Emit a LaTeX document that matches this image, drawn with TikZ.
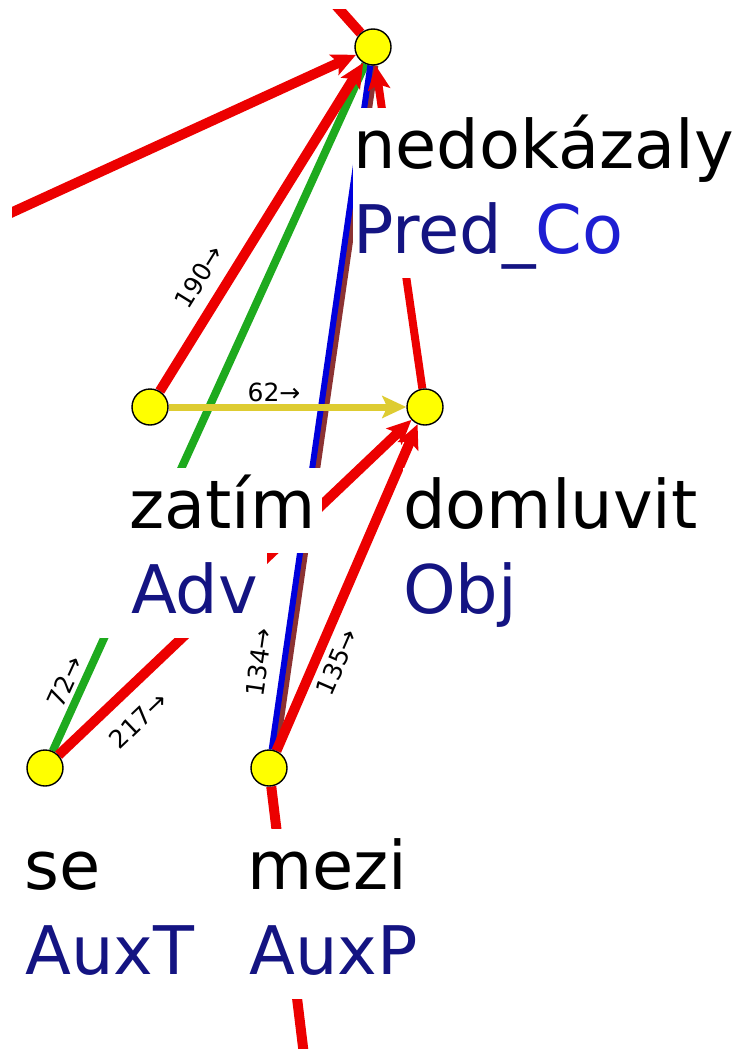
\documentclass[tikz,border=0pt]{standalone}
\usepackage{fontspec}
\setmainfont{DejaVu Sans}
\usetikzlibrary{arrows.meta,backgrounds}
\definecolor{ered}{RGB}{236,0,0}
\definecolor{egreen}{RGB}{30,170,30}
\definecolor{eblue}{RGB}{0,0,220}
\definecolor{ebrown}{RGB}{140,50,50}
\definecolor{eyellow}{RGB}{222,204,50}
\definecolor{navy}{RGB}{20,20,130}
\definecolor{brblue}{RGB}{30,30,210}
\definecolor{nodeyel}{RGB}{255,255,0}
\begin{document}
\begin{tikzpicture}[x=1pt,y=-1pt,
  tnode/.style={circle, fill=nodeyel, draw=black, line width=1.4pt, minimum size=36pt, inner sep=0pt},
  word/.style={anchor=base west, fill=white, inner xsep=0pt, inner ysep=0pt, text height=60pt, text depth=25pt, font=\fontsize{67}{70}\selectfont},
  func/.style={word, text=navy},
  elab/.style={font=\fontsize{25}{28}\selectfont, inner sep=1pt},
  redge/.style={draw=ered, line width=10pt},
  gedge/.style={draw=egreen, line width=8pt},
  bledge/.style={draw=eblue, line width=6pt},
  bredge/.style={draw=ebrown, line width=6pt},
  yedge/.style={draw=eyellow, line width=7pt},
  ahead/.style={-{Stealth[length=24pt,width=22pt,inset=5pt]}},
]
\useasboundingbox (0,0) rectangle (740,1049);
% tree nodes
\node[tnode] (nedok) at (373,47) {};
\node[tnode] (zatim) at (150,407) {};
\node[tnode] (domluvit) at (425,407) {};
\node[tnode] (se) at (45,768) {};
\node[tnode] (mezi) at (269,768) {};
\coordinate (topp) at (307,-27);
\coordinate (leftp) at (-20,227);
\coordinate (botc) at (307,1080);
% edges
\begin{pgfonlayer}{background}
\begin{scope}
\clip (12,10) rectangle (740,1049);
\draw[redge] (topp) -- (nedok);
\draw[redge, ahead] (leftp) -- (nedok);
\draw[gedge] (se) -- (nedok);
\draw[redge, ahead] (zatim) -- (nedok);
\draw[bredge, transform canvas={xshift=5pt}] (mezi) -- (nedok);
\draw[bledge] (mezi) -- (nedok);
\draw[redge, line width=8pt, ahead] (domluvit) -- (nedok);
\draw[yedge, ahead] (zatim) -- (domluvit);
\draw[redge, ahead] (se) -- (domluvit);
\draw[redge, ahead] (mezi) -- (domluvit);
\draw[redge] (mezi) -- (botc);
\end{scope}
\end{pgfonlayer}
% node labels
\node[word] (wnedok) at (353,168) {nedokázaly};
\node[func] (fnedok) at (353,253) {Pred\_{\color{brblue}Co}};
\fill[white] (128,468) rectangle (322,553);
\node[word] (wzatim) at (129,528) {zatím};
\fill[white] (100,553) rectangle (267,638);
\node[func] (fzatim) at (131,613) {Adv};
\node[word] (wdom) at (403,528) {domluvit};
\node[func] (fdom) at (403,613) {Obj};
\node[word] (wse) at (24,889) {se};
\node[func] (fse) at (25,974) {AuxT};
\node[word] (wmezi) at (247,889) {mezi};
\node[func] (fmezi) at (249,974) {AuxP};
% edge labels
\node[elab, rotate=58.2] (l190) at (199,277) {190→};
\node[elab] (l62) at (274,392) {62→};
\node[elab, rotate=65.5] (l72) at (65,682) {72→};
\node[elab, rotate=43.6] (l217) at (138,720) {217→};
\node[elab, rotate=81.7] (l134) at (259,662) {134→};
\node[elab, rotate=66.6] (l135) at (337,662) {135→};
\end{tikzpicture}
\end{document}
